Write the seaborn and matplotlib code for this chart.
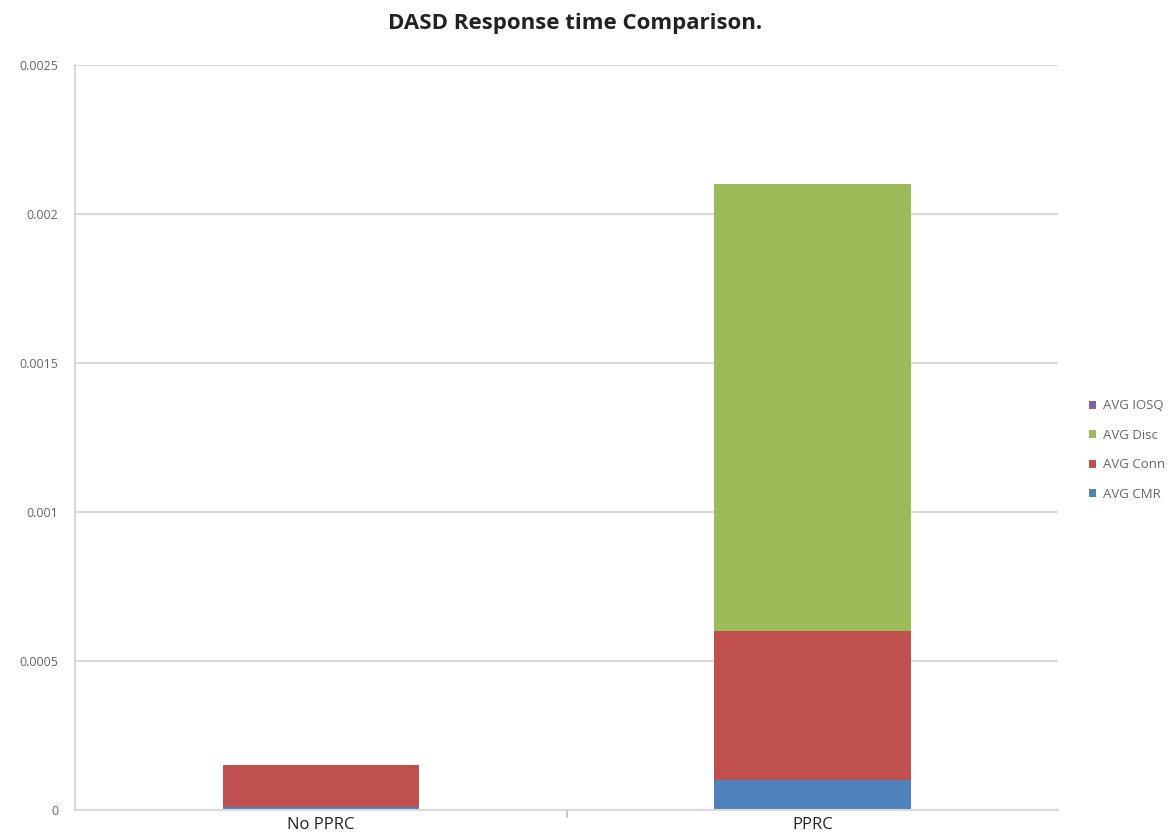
import matplotlib
matplotlib.use("Agg")
import matplotlib.pyplot as plt
import seaborn as sns
import pandas as pd
import numpy as np
from matplotlib.patches import Patch

categories = ["No PPRC", "PPRC"]
series = ["AVG CMR", "AVG Conn", "AVG Disc", "AVG IOSQ"]
avg_cmr = [0.00001, 0.0001]
avg_conn = [0.00014, 0.0005]
avg_disc = [0.0, 0.0015]
avg_iosq = [0.0, 0.0]
colors = {"AVG CMR": "#4F81BD", "AVG Conn": "#C0504D", "AVG Disc": "#9BBB59", "AVG IOSQ": "#8064A2"}
yticks = [0, 0.0005, 0.001, 0.0015, 0.002, 0.0025]
ytick_labels = ["0", "0.0005", "0.001", "0.0015", "0.002", "0.0025"]

sns.set_style("white")
plt.rcParams['font.family'] = ['Open Sans', 'DejaVu Sans']

vals = np.array([avg_cmr, avg_conn, avg_disc, avg_iosq])
cum = np.cumsum(vals, axis=0)

fig = plt.figure(figsize=(11.73, 8.39), dpi=100)
ax = fig.add_axes([0.064, 0.0346, 0.838, 0.888])

for i in range(len(series) - 1, -1, -1):
    df = pd.DataFrame({"cat": categories, "val": cum[i]})
    sns.barplot(data=df, x="cat", y="val", color=colors[series[i]], width=0.4,
                saturation=1, ax=ax, linewidth=0)

ax.set_ylim(0, 0.0025)
ax.set_xlim(-0.5, 1.5)
ax.set_yticks(yticks)
ax.set_yticklabels(ytick_labels, fontsize=9, color="#666666")
ax.set_xticks([0, 1])
ax.set_xticklabels(categories, fontsize=12, color="#222222")
ax.set_xlabel("")
ax.set_ylabel("")
ax.yaxis.grid(True, color="#d9d9d9", linewidth=1.5)
ax.set_axisbelow(True)
for s in ["top", "right"]:
    ax.spines[s].set_visible(False)
ax.spines["left"].set_color("#d9d9d9")
ax.spines["left"].set_linewidth(1.5)
ax.spines["bottom"].set_color("#d9d9d9")
ax.spines["bottom"].set_linewidth(1.5)
ax.tick_params(axis="y", length=5, color="#d9d9d9", width=1.2, pad=7)
ax.tick_params(axis="x", length=0, pad=5)
ax.axvline(0.5, ymin=-0.01, ymax=0, color="#bbbbbb", lw=1.2, clip_on=False)

handles = [Patch(facecolor=colors[s], edgecolor="none", label=s) for s in reversed(series)]
leg = fig.legend(handles=handles, loc="center left", bbox_to_anchor=(0.918, 0.4637),
                 frameon=False, fontsize=9.5, labelcolor="#666666", handlelength=0.55,
                 handleheight=0.55, handletextpad=0.5, labelspacing=1.25)

fig.suptitle("DASD Response time Comparison.", x=0.49, y=0.985, fontsize=16,
             fontweight="bold", color="#222222")

fig.savefig("out.png", dpi=100)
